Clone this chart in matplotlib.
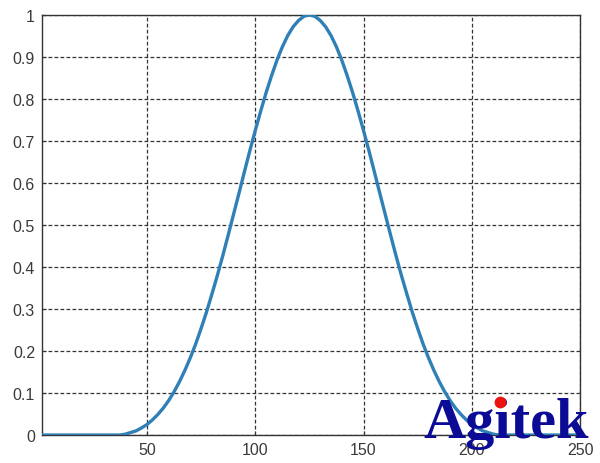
import matplotlib
matplotlib.use("Agg")
import matplotlib.pyplot as plt
from matplotlib.lines import Line2D

# Data (window-shaped pulse centred near 125)
x_vals = [1, 20, 35.5,
          37.5, 40, 42.5, 45, 47.5, 50, 52.5, 55, 57.5, 60, 62.5, 65, 67.5, 70,
          72.5, 75, 77.5, 80, 82.5, 85, 87.5, 90, 92.5, 95, 97.5, 100, 102.5,
          105, 107.5, 110, 112.5, 115, 117.5, 120, 122.5, 125,
          127.5, 130, 132.5, 135, 137.5, 140, 142.5, 145, 147.5, 150, 152.5,
          155, 157.5, 160, 162.5, 165, 167.5, 170, 172.5, 175, 177.5, 180,
          182.5, 185, 187.5, 190, 192.5, 195, 197.5, 200, 202.5, 205, 207.5,
          210, 212.5,
          214.5, 230, 250]
y_vals = [0, 0, 0,
          0.000, 0.002, 0.006, 0.010, 0.017, 0.025, 0.036, 0.049, 0.064, 0.082,
          0.103, 0.127, 0.154, 0.184, 0.217, 0.254, 0.293, 0.336, 0.380, 0.427,
          0.476, 0.526, 0.576, 0.627, 0.677, 0.725, 0.771, 0.815, 0.855, 0.892,
          0.924, 0.951, 0.972, 0.987, 0.997, 1.000,
          0.997, 0.987, 0.972, 0.951, 0.924, 0.892, 0.855, 0.815, 0.771, 0.725,
          0.677, 0.627, 0.576, 0.526, 0.476, 0.427, 0.380, 0.336, 0.293, 0.254,
          0.217, 0.184, 0.154, 0.127, 0.103, 0.082, 0.064, 0.049, 0.036, 0.025,
          0.017, 0.010, 0.006, 0.002, 0.000,
          0, 0, 0]

x_ticks = [50, 100, 150, 200, 250]
y_ticks = [0, 0.1, 0.2, 0.3, 0.4, 0.5, 0.6, 0.7, 0.8, 0.9, 1.0]
y_tick_labels = ["0", "0.1", "0.2", "0.3", "0.4", "0.5", "0.6", "0.7", "0.8", "0.9", "1"]
watermark = "Agitek"

plt.rcParams['font.family'] = ['Liberation Sans', 'DejaVu Sans']

fig = plt.figure(figsize=(6.0, 4.64), dpi=100)
ax = fig.add_axes([0.07, 0.0603, 0.8967, 0.9052])

ax.plot(x_vals, y_vals, color='#2f80b6', linewidth=2.4, solid_capstyle='round',
        solid_joinstyle='round', zorder=3)

ax.set_xlim(1.5, 250)
ax.set_ylim(0, 1)
ax.set_xticks(x_ticks)
ax.set_yticks(y_ticks)
ax.set_yticklabels(y_tick_labels)
ax.tick_params(direction='in', length=3, width=0.8, labelsize=11.5,
               labelcolor='#3a3a3a', color='#333333', pad=5)
ax.grid(True, color='#333333', linestyle=(0, (3.0, 1.8)), linewidth=0.9)
for s in ax.spines.values():
    s.set_color('#333333')
    s.set_linewidth(1.0)

fig.text(423 / 600, 1 - 438 / 464, watermark, fontsize=42, fontweight='bold',
         family=['Liberation Serif', 'DejaVu Serif'], color='#0b0b96',
         ha='left', va='baseline', zorder=10)
fig.add_artist(Line2D([500 / 600], [1 - 402.7 / 464], marker='o', markersize=8.5,
                      color='#ee1111', markeredgewidth=0, transform=fig.transFigure,
                      zorder=11))

fig.savefig('out.png', dpi=100)
